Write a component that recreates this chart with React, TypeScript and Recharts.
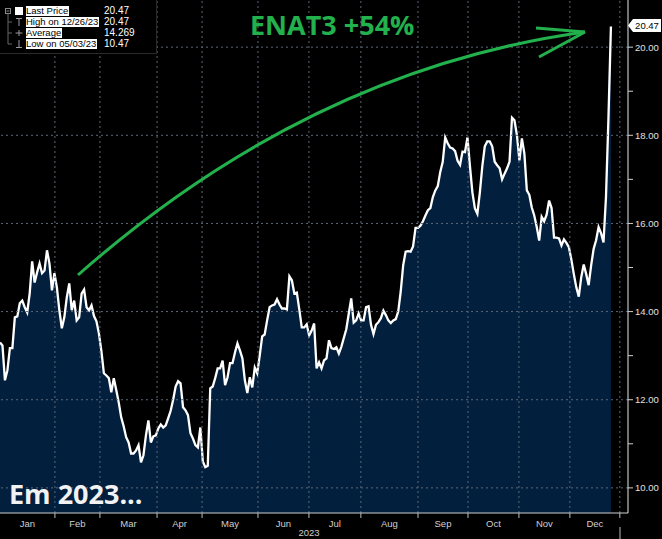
import React from "react";
import { AreaChart, Area, XAxis, YAxis, ReferenceLine } from "recharts";

// ENAT3 daily closes, 2023 (one value per trading day)
const prices = [
  13.3, 13.23, 12.44, 12.67, 13.17, 13.17, 13.87, 13.89, 14.19, 14.25,
  14.1, 13.98, 14.41, 15.14, 14.66, 14.89, 15.09, 14.87, 14.93, 15.39,
  15.09, 14.48, 14.87, 14.55, 14.03, 13.62, 13.87, 14.32, 14.64, 14.03,
  14.25, 13.8, 13.87, 14.41, 14.5, 14.1, 14.03, 14.14, 13.9, 13.78,
  13.5, 13.1, 12.6, 12.55, 12.49, 12.17, 12.49, 12.22, 11.94, 11.6,
  11.4, 11.15, 11.03, 10.78, 10.78, 10.85, 10.97, 10.58, 10.74, 11.19,
  11.53, 11.03, 11.17, 11.19, 11.35, 11.44, 11.37, 11.42, 11.58, 11.75,
  12.0, 12.3, 12.42, 12.37, 11.83, 11.76, 11.65, 11.24, 11.12, 10.97,
  10.92, 11.37, 10.6, 10.47, 10.5, 12.26, 12.3, 12.49, 12.71, 12.71,
  12.89, 12.33, 12.51, 12.83, 12.83, 13.07, 13.28, 13.12, 12.94, 12.44,
  12.15, 12.51, 12.28, 12.73, 12.6, 13.0, 13.44, 13.48, 13.8, 14.1,
  14.14, 14.16, 14.28, 14.16, 14.07, 14.07, 14.05, 14.8, 14.71, 14.41,
  14.43, 14.05, 13.64, 13.64, 13.71, 13.46, 13.57, 13.73, 12.71, 12.85,
  12.71, 12.89, 12.94, 13.35, 13.17, 13.15, 13.19, 13.05, 13.2, 13.4,
  13.6, 13.95, 14.3, 13.75, 13.8, 13.96, 13.8, 13.8, 14.1, 14.12,
  13.7, 13.49, 13.7, 13.76, 13.85, 14.02, 13.92, 13.8, 13.74, 13.8,
  13.83, 14.0, 14.45, 15.05, 15.36, 15.37, 15.36, 15.48, 15.9, 15.9,
  15.95, 16.05, 16.18, 16.3, 16.35, 16.6, 16.75, 16.85, 17.17, 17.4,
  17.95, 17.82, 17.72, 17.7, 17.64, 17.42, 17.33, 17.63, 17.62, 17.95,
  17.3, 16.7, 16.34, 16.22, 16.7, 17.3, 17.75, 17.86, 17.86, 17.75,
  17.4, 17.32, 17.25, 17.0, 17.13, 17.25, 17.4, 18.4, 18.34, 18.0,
  17.43, 17.93, 17.59, 16.75, 16.65, 16.36, 16.18, 15.92, 15.61, 16.15,
  16.05, 16.2, 16.52, 16.35, 15.68, 15.68, 15.66, 15.5, 15.64, 15.56,
  15.46, 15.18, 14.85, 14.55, 14.34, 14.78, 15.07, 14.85, 14.6, 15.05,
  15.42, 15.62, 15.92, 15.78, 15.57, 16.6, 18.4, 20.47,
];

// month boundaries in trading-day units (Feb 1 ... Jan 1 2024)
const monthStarts = [22.2, 40.4, 63.5, 81.7, 104.3, 124.9, 145.9, 169.0, 189.2, 209.8, 230.4, 250.6];
const monthNames = ["Jan", "Feb", "Mar", "Apr", "May", "Jun", "Jul", "Aug", "Sep", "Oct", "Nov", "Dec"];
const yTicks = [10, 11, 12, 13, 14, 15, 16, 17, 18, 19, 20];
const yGrid = [10, 12, 14, 16, 18, 20];

const legendRows = [
  { label: "Last Price", value: "20.47" },
  { label: "High on 12/26/23", value: "20.47" },
  { label: "Average", value: "14.269" },
  { label: "Low on 05/03/23", value: "10.47" },
];
const lastPrice = "20.47";
const title = "ENAT3 +54%";
const caption = "Em 2023...";
const yearLabel = "2023";

const data = prices.map((price, day) => ({ day, price }));
const monthMids = monthNames.map((_, i) => ((i === 0 ? 0 : monthStarts[i - 1]) + monthStarts[i]) / 2);

const GREEN = "#22b14c";
const GRID = "#5d6877";
const FONT = "'Liberation Sans', Arial, sans-serif";

const NoTick = () => <g />;

const YTick = (props: any) => {
  const { x, y, payload } = props;
  if (payload.value % 2 !== 0) return <g />;
  return (
    <text x={x} y={y} dy={3.5} fill="#e0e0e0" fontSize={9.5} fontFamily={FONT} textAnchor="start">
      {payload.value.toFixed(2)}
    </text>
  );
};

function Legend() {
  const rowTop = [6, 17, 28, 39];
  return (
    <div
      style={{
        position: "absolute",
        left: 0,
        top: 0,
        width: 156,
        height: 53,
        background: "#000",
        borderRight: "1px solid #2a2a2a",
        borderBottom: "1px solid #2a2a2a",
        fontFamily: FONT,
      }}
    >
      <svg width={24} height={53} style={{ position: "absolute", left: 0, top: 0 }}>
        <rect x={5.5} y={8.5} width={5} height={5} fill="none" stroke="#888" />
        <line x1={6.5} y1={11} x2={9.5} y2={11} stroke="#888" />
        <rect x={15} y={7} width={8} height={8} fill="#fff" />
        <line x1={8} y1={14} x2={8} y2={44} stroke="#666" />
        <line x1={8} y1={22} x2={12} y2={22} stroke="#666" />
        <line x1={8} y1={33} x2={12} y2={33} stroke="#666" />
        <line x1={8} y1={44} x2={12} y2={44} stroke="#666" />
        <line x1={16} y1={18.5} x2={22} y2={18.5} stroke="#999" />
        <line x1={19} y1={18.5} x2={19} y2={26} stroke="#999" />
        <line x1={15.5} y1={33} x2={22.5} y2={33} stroke="#999" />
        <line x1={19} y1={30} x2={19} y2={36} stroke="#999" />
        <line x1={19} y1={40} x2={19} y2={47.5} stroke="#999" />
        <line x1={16} y1={47.5} x2={22} y2={47.5} stroke="#999" />
      </svg>
      {legendRows.map((r, i) => (
        <React.Fragment key={r.label}>
          <span
            style={{
              position: "absolute",
              left: 26,
              top: rowTop[i],
              background: "#fff",
              color: "#000",
              fontSize: 9.5,
              lineHeight: "10px",
              padding: "0 1px 0 0",
              whiteSpace: "nowrap",
            }}
          >
            {r.label}
          </span>
          <span
            style={{
              position: "absolute",
              left: 104,
              top: rowTop[i],
              color: "#fff",
              fontSize: 10,
              lineHeight: "10px",
              whiteSpace: "nowrap",
            }}
          >
            {r.value}
          </span>
        </React.Fragment>
      ))}
    </div>
  );
}

export default function App() {
  return (
    <div style={{ position: "absolute", left: 0, top: 0, width: 662, height: 539, background: "#000", overflow: "hidden" }}>
      <AreaChart width={662} height={539} data={data} margin={{ top: 0, right: 0, bottom: 0, left: 0 }}>
        <XAxis
          dataKey="day"
          type="number"
          domain={[0, 253.9]}
          allowDataOverflow
          ticks={monthStarts}
          interval={0}
          tick={NoTick}
          tickSize={5}
          tickLine={{ stroke: "#bbb" }}
          axisLine={{ stroke: "#cfcfcf" }}
          height={6}
        />
        <XAxis
          xAxisId="labels"
          dataKey="day"
          type="number"
          domain={[0, 253.9]}
          allowDataOverflow
          ticks={monthMids}
          interval={0}
          tickFormatter={(v: number) => monthNames[monthMids.indexOf(v)] ?? ""}
          tick={{ fill: "#cfcfcf", fontSize: 9.5, fontFamily: FONT }}
          tickLine={false}
          axisLine={false}
          tickSize={0}
          tickMargin={1}
          height={20}
        />
        <YAxis
          orientation="right"
          width={34}
          domain={[9.43, 21.07]}
          allowDataOverflow
          ticks={yTicks}
          interval={0}
          tick={YTick}
          tickSize={5}
          tickMargin={2}
          tickLine={{ stroke: "#cfcfcf" }}
          axisLine={{ stroke: "#e6e6e6" }}
        />
        <Area
          type="linear"
          dataKey="price"
          stroke="#ffffff"
          strokeWidth={2.3}
          fill="#021f3d"
          fillOpacity={1}
          dot={false}
          activeDot={false}
          isAnimationActive={false}
        />
        {yGrid.map((v) => (
          <ReferenceLine key={"y" + v} y={v} stroke={GRID} strokeDasharray="2 3" />
        ))}
        {monthStarts.map((v) => (
          <ReferenceLine key={"x" + v} x={v} stroke={GRID} strokeDasharray="2 3" />
        ))}
      </AreaChart>

      <svg width={662} height={539} style={{ position: "absolute", left: 0, top: 0, pointerEvents: "none" }}>
        <path d="M 78 275 Q 310 70 585 32" fill="none" stroke={GREEN} strokeWidth={3} />
        <line x1={536} y1={28} x2={585} y2={32} stroke={GREEN} strokeWidth={3} />
        <line x1={539} y1={57} x2={585} y2={32} stroke={GREEN} strokeWidth={3} />
        <text x={250} y={35} fill={GREEN} fontSize={27} fontWeight={700} fontFamily="'Open Sans', sans-serif">
          {title}
        </text>
        <text x={9} y={504} fill="#f2f2f2" fontSize={27} fontWeight={700} fontFamily="'Open Sans', sans-serif">
          {caption}
        </text>
        <text x={309} y={536} fill="#cfcfcf" fontSize={9.5} fontFamily={FONT} textAnchor="middle">
          {yearLabel}
        </text>
        <line x1={620} y1={527} x2={620} y2={539} stroke="#bbb" />
        <polygon points="628,25.5 633,19 661,19 661,32 633,32" fill="#fff" />
        <text x={647} y={29} fill="#000" fontSize={9.5} fontFamily={FONT} textAnchor="middle">
          {lastPrice}
        </text>
      </svg>

      <Legend />
    </div>
  );
}
